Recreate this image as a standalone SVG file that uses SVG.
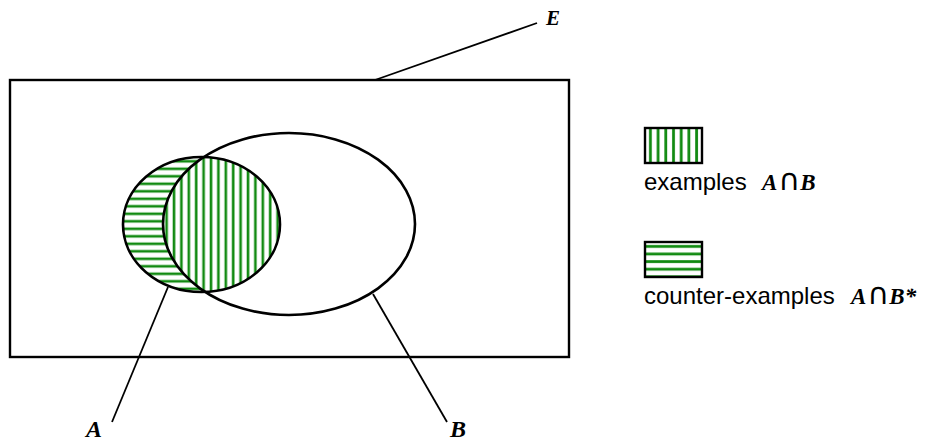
<svg xmlns="http://www.w3.org/2000/svg" width="925" height="443" viewBox="0 0 925 443">
  <style>
    .outline { fill: none; stroke: #000; stroke-width: 2.6; }
    .lead { fill: none; stroke: #000; stroke-width: 1.8; }
    .lbl { font-family: "Liberation Serif", "DejaVu Serif", serif; font-style: italic; font-weight: bold; fill: #000; }
    .cap { font-family: "DejaVu Sans", sans-serif; font-style: normal; font-weight: normal; }
    .txt { font-family: "Liberation Sans", Arial, sans-serif; font-size: 24px; fill: #000; }
  </style>
  <defs>
    <pattern id="vstripe" patternUnits="userSpaceOnUse" x="0" y="0" width="7.4" height="10">
      <rect x="0" y="0" width="7.4" height="10" fill="#fff"/>
      <rect x="2.5" y="0" width="2.6" height="10" fill="#118a11"/>
    </pattern>
    <pattern id="hstripe" patternUnits="userSpaceOnUse" x="0" y="0" width="10" height="7.5">
      <rect x="0" y="0" width="10" height="7.5" fill="#fff"/>
      <rect x="0" y="2.5" width="10" height="2.6" fill="#118a11"/>
    </pattern>
    <pattern id="vlegend" patternUnits="userSpaceOnUse" x="645" y="0" width="7.7" height="10">
      <rect x="0" y="0" width="7.7" height="10" fill="#fff"/>
      <rect x="4" y="0" width="2.8" height="10" fill="#118a11"/>
    </pattern>
    <pattern id="hlegend" patternUnits="userSpaceOnUse" x="0" y="242" width="10" height="7.6">
      <rect x="0" y="0" width="10" height="7.6" fill="#fff"/>
      <rect x="0" y="3" width="10" height="2.8" fill="#118a11"/>
    </pattern>
    <clipPath id="clipB">
      <ellipse cx="289" cy="224" rx="126" ry="91"/>
    </clipPath>
  </defs>

  <g id="E">
    <rect x="10" y="80" width="559" height="277" fill="#fff" stroke="#000" stroke-width="2.4"/>
  </g>

  <g id="A">
    <ellipse cx="201.5" cy="224.5" rx="78.5" ry="67.5" fill="url(#hstripe)"/>
    <ellipse cx="201.5" cy="224.5" rx="78.5" ry="67.5" fill="url(#vstripe)" clip-path="url(#clipB)"/>
    <ellipse cx="201.5" cy="224.5" rx="78.5" ry="67.5" class="outline"/>
  </g>

  <g id="B">
    <ellipse cx="289" cy="224" rx="126" ry="91" class="outline"/>
  </g>

  <g id="connectors">
    <line x1="375" y1="80" x2="537" y2="23" class="lead"/>
    <line x1="168" y1="287" x2="112" y2="422" class="lead"/>
    <line x1="373" y1="294" x2="447" y2="422" class="lead"/>
  </g>

  <g id="labels">
    <text x="546" y="25" class="lbl" font-size="21" font-weight="normal">E</text>
    <text x="86" y="437" class="lbl" font-size="24">A</text>
    <text x="450" y="437" class="lbl" font-size="24">B</text>
  </g>

  <g id="legend-examples">
    <rect x="645" y="128" width="57" height="35" fill="url(#vlegend)" stroke="#000" stroke-width="2.4"/>
    <text x="644" y="190" class="txt">examples</text>
    <text x="762" y="190" class="lbl" font-size="23">A<tspan class="cap" font-size="30" dx="1">∩</tspan>B</text>
  </g>

  <g id="legend-counter">
    <rect x="645" y="242" width="57" height="35" fill="url(#hlegend)" stroke="#000" stroke-width="2.4"/>
    <text x="644" y="304" class="txt">counter-examples</text>
    <text x="851" y="304" class="lbl" font-size="23">A<tspan class="cap" font-size="30" dx="1">∩</tspan>B*</text>
  </g>
</svg>
